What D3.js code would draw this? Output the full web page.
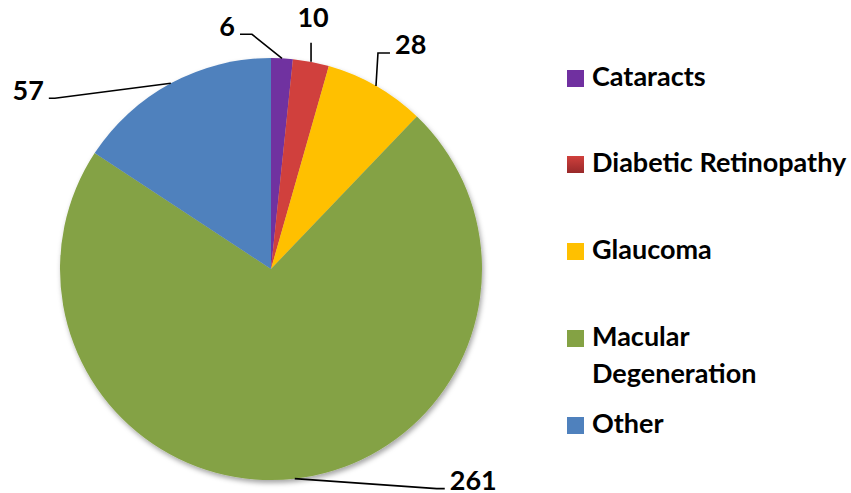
<!DOCTYPE html>
<html>
<head>
<meta charset="utf-8">
<script src="https://cdn.jsdelivr.net/npm/d3@7"></script>
<style>
  body { margin: 0; background: #fff; }
  text { font-family: Lato, "Open Sans", sans-serif; font-weight: bold; fill: #000; }
</style>
</head>
<body>
<div id="chart"></div>
<script>
// Chart size.
var width = 851;
var height = 493;

// Data.
var categories = ["Cataracts", "Diabetic Retinopathy", "Glaucoma", "Macular Degeneration", "Other"];
var values = [6, 10, 28, 261, 57];
var sliceColors = ["#7030a0", "#c0504d", "#ffc000", "#84a244", "#4f81bd"];

// Where each data label sits, relative to the point where its leader leaves the pie.
// [elbow dx, elbow dy, end dx, end dy, text-anchor]
var labelOffsets = [
  [-30, -24, -42, -24, "end"],
  [0, -19, 0, -19, "middle"],
  [2, -33, 14, -33, "start"],
  [142, 10, 150, 10, "start"],
  [-116, 15, -122, 15, "end"]
];

var cx = 271, cy = 269, radius = 211;

var svg = d3.select("#chart").append("svg")
    .attr("width", width)
    .attr("height", height);

var defs = svg.append("defs");

// Soft shadow under the pie.
var shadow = defs.append("filter")
    .attr("id", "shadow")
    .attr("x", "-10%").attr("y", "-10%")
    .attr("width", "120%").attr("height", "120%");
shadow.append("feDropShadow")
    .attr("dx", 1.5).attr("dy", 3)
    .attr("stdDeviation", 2.5)
    .attr("flood-color", "#000")
    .attr("flood-opacity", 0.35);

// Diabetic Retinopathy slice has a vertical gradient.
var grad = defs.append("linearGradient")
    .attr("id", "redGrad")
    .attr("gradientUnits", "userSpaceOnUse")
    .attr("x1", 0).attr("y1", cy - radius)
    .attr("x2", 0).attr("y2", cy);
grad.append("stop").attr("offset", "0%").attr("stop-color", "#d0403c");
grad.append("stop").attr("offset", "100%").attr("stop-color", "#98292a");

var legendGrad = defs.append("linearGradient")
    .attr("id", "redGradLegend")
    .attr("x1", 0).attr("y1", 0).attr("x2", 0).attr("y2", 1);
legendGrad.append("stop").attr("offset", "0%").attr("stop-color", "#d0403c");
legendGrad.append("stop").attr("offset", "100%").attr("stop-color", "#98292a");

function fillFor(i, legend) {
  if (i === 1) return legend ? "url(#redGradLegend)" : "url(#redGrad)";
  return sliceColors[i];
}

var data = categories.map(function(c, i) { return { name: c, value: values[i], i: i }; });

var pie = d3.pie()
    .sort(null)
    .value(function(d) { return d.value; });

var arc = d3.arc()
    .innerRadius(0)
    .outerRadius(radius);

var arcs = pie(data);

var g = svg.append("g")
    .attr("transform", "translate(" + cx + "," + cy + ")");

g.append("g")
    .attr("filter", "url(#shadow)")
  .selectAll("path")
    .data(arcs)
    .enter().append("path")
    .attr("d", arc)
    .attr("fill", function(d) { return fillFor(d.data.i, false); });

// Leader lines and value labels.
arcs.forEach(function(d, i) {
  var mid = (d.startAngle + d.endAngle) / 2;
  var px = radius * Math.sin(mid);
  var py = -radius * Math.cos(mid);
  var o = labelOffsets[i];
  var pts = [[px, py], [px + o[0], py + o[1]], [px + o[2], py + o[3]]];

  g.append("path")
      .attr("d", d3.line()(pts))
      .attr("fill", "none")
      .attr("stroke", "#000")
      .attr("stroke-width", 1.6);

  var tx = px + o[2], ty = py + o[3];
  var anchor = o[4];
  var t = g.append("text")
      .attr("font-size", 27)
      .attr("text-anchor", anchor)
      .text(d.data.value);
  if (anchor === "end") {
    t.attr("x", tx - 5).attr("y", ty + 2);
  } else if (anchor === "start") {
    t.attr("x", tx + 5).attr("y", ty + 1);
  } else {
    t.attr("x", tx + 2).attr("y", ty - 16);
  }
});

// Legend.
var legendLines = [["Cataracts"], ["Diabetic Retinopathy"], ["Glaucoma"], ["Macular", "Degeneration"], ["Other"]];
var legendBaselines = [86, 172, 259, 346, 433];

var legend = svg.append("g");

// Calibri is narrow; squeeze the substitute font to the same width.
var probe = legend.append("text").attr("font-size", 27).text("Diabetic Retinopathy");
var sx = Math.min(1, 255 / probe.node().getComputedTextLength());
probe.remove();

legendLines.forEach(function(lines, i) {
  var y = legendBaselines[i];
  legend.append("rect")
      .attr("x", 567)
      .attr("y", y - 16)
      .attr("width", 17)
      .attr("height", 17)
      .attr("fill", fillFor(i, true));
  lines.forEach(function(line, j) {
    legend.append("text")
        .attr("transform", "translate(592," + (y + j * 37) + ") scale(" + sx + ",1)")
        .attr("font-size", 27)
        .text(line);
  });
});
</script>
</body>
</html>
